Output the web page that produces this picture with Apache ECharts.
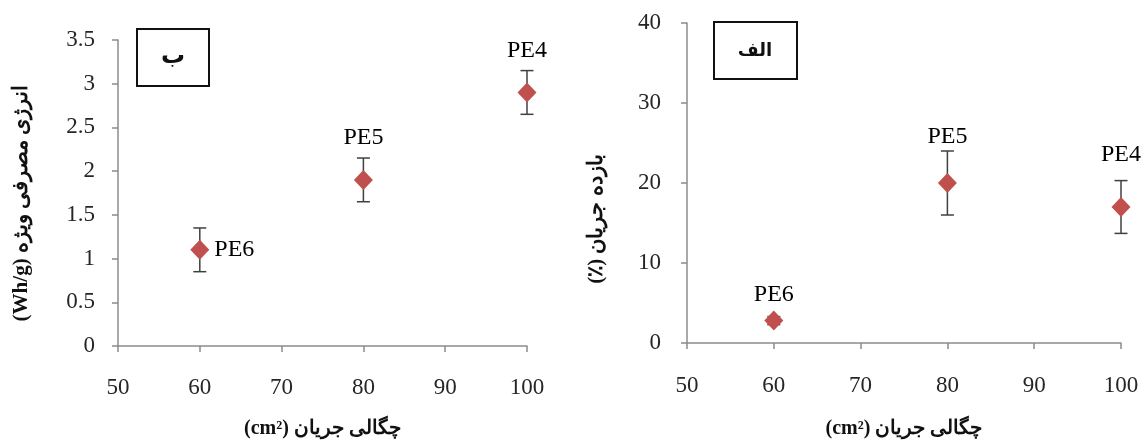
<!DOCTYPE html>
<html><head><meta charset="utf-8">
<script src="https://cdn.jsdelivr.net/npm/echarts@6/dist/echarts.min.js"></script>
<style>html,body{margin:0;padding:0;background:#fff}#c{width:1141px;height:442px}</style>
</head><body><div id="c"></div>
<script>
const currentDensity = [60, 80, 100];
const sampleNames = ['PE6', 'PE5', 'PE4'];
const energyValues = [1.1, 1.9, 2.9];
const energyErrors = [0.25, 0.25, 0.25];
const efficiencyValues = [2.8, 20, 17];
const efficiencyErrors = [0.5, 4, 3.3];
const xTicks = [50, 60, 70, 80, 90, 100];
const energyTicks = [0, 0.5, 1, 1.5, 2, 2.5, 3, 3.5];
const efficiencyTicks = [0, 10, 20, 30, 40];

const RLE = '\u202B', PDF = '\u202C';
const rtl = s => RLE + s + PDF;

const serif = "'Liberation Serif', 'DejaVu Serif', serif";
const red = '#C0504D';
const grayAxis = '#8c8c8c';

function errRender(params, api) {
  const x = api.value(0), lo = api.value(1), hi = api.value(2);
  const pLo = api.coord([x, lo]), pHi = api.coord([x, hi]);
  const w = 6.5;
  const st = { stroke: '#404040', lineWidth: 1.5 };
  return { type: 'group', children: [
    { type: 'line', shape: { x1: pLo[0], y1: pLo[1], x2: pHi[0], y2: pHi[1] }, style: st },
    { type: 'line', shape: { x1: pLo[0]-w, y1: pLo[1], x2: pLo[0]+w, y2: pLo[1] }, style: st },
    { type: 'line', shape: { x1: pHi[0]-w, y1: pHi[1], x2: pHi[0]+w, y2: pHi[1] }, style: st }
  ]};
}

function xAxis(gridIndex, margin, nameGap) {
  return {
    type: 'value', gridIndex, min: 50, max: 100, interval: 10,
    axisLine: { lineStyle: { color: grayAxis, width: 1.5 } },
    axisTick: { show: true, inside: false, length: 6, lineStyle: { color: grayAxis, width: 1.5 } },
    axisLabel: { color: '#262626', fontFamily: serif, fontSize: 23, margin: margin },
    splitLine: { show: false },
    name: rtl('چگالی جریان (cm²)'), nameLocation: 'middle', nameGap,
    nameTextStyle: { color: '#111', fontFamily: serif, fontSize: 20, fontWeight: 'bold' }
  };
}
function yAxis(gridIndex, max, interval, name, nameGap, margin, pad) {
  return {
    type: 'value', gridIndex, min: 0, max, interval,
    axisLine: { show: true, lineStyle: { color: grayAxis, width: 1.5 } },
    axisTick: { show: true, inside: false, length: 6, lineStyle: { color: grayAxis, width: 1.5 } },
    axisLabel: { color: '#262626', fontFamily: serif, fontSize: 23, margin: margin },
    splitLine: { show: false },
    name: rtl(name), nameLocation: 'middle', nameGap, nameRotate: 90,
    nameTextStyle: { color: '#111', fontFamily: serif, fontSize: 21, fontWeight: 'bold', padding: [0, pad, 0, 0] }
  };
}

const energyPoints = currentDensity.map((x, i) => ({
  value: [x, energyValues[i]], name: sampleNames[i],
  label: i === 0 ? { position: 'right', distance: 5 } : { position: 'top', distance: 20 }
}));
const effDist = [4, 24, 30];
const efficiencyPoints = currentDensity.map((x, i) => ({
  value: [x, efficiencyValues[i]], name: sampleNames[i],
  label: { position: 'top', distance: effDist[i] }
}));

const labelStyle = { show: true, formatter: p => p.name, color: '#000', fontFamily: serif, fontSize: 24 };

const chart = echarts.init(document.getElementById('c'), null, { renderer: 'canvas' });
chart.setOption({
  animation: false,
  backgroundColor: '#fff',
  grid: [
    { left: 118, right: 614, top: 40, bottom: 96, outerBoundsMode: 'none', containLabel: false },
    { left: 687, right: 20, top: 23, bottom: 99, outerBoundsMode: 'none', containLabel: false }
  ],
  xAxis: [xAxis(0, 30, 73), xAxis(1, 31, 76)],
  yAxis: [
    yAxis(0, 3.5, 0.5, 'انرژی مصرفی ویژه (Wh/g)', 86, 23, 20),
    yAxis(1, 40, 10, 'بازده جریان (٪)', 80, 26, 72)
  ],
  series: [
    { type: 'custom', xAxisIndex: 0, yAxisIndex: 0, renderItem: errRender, z: 1,
      data: currentDensity.map((x, i) => [x, energyValues[i]-energyErrors[i], energyValues[i]+energyErrors[i]]) },
    { type: 'scatter', xAxisIndex: 0, yAxisIndex: 0, symbol: 'diamond', symbolSize: [19, 20], z: 3,
      itemStyle: { color: red, opacity: 1 }, label: labelStyle, data: energyPoints },
    { type: 'custom', xAxisIndex: 1, yAxisIndex: 1, renderItem: errRender, z: 1,
      data: currentDensity.map((x, i) => [x, efficiencyValues[i]-efficiencyErrors[i], efficiencyValues[i]+efficiencyErrors[i]]) },
    { type: 'scatter', xAxisIndex: 1, yAxisIndex: 1, symbol: 'diamond', symbolSize: [19, 20], z: 3,
      itemStyle: { color: red, opacity: 1 }, label: labelStyle, data: efficiencyPoints }
  ],
  graphic: [
    { type: 'group', left: 136, top: 28, children: [
      { type: 'rect', shape: { x: 0, y: 0, width: 72, height: 57 }, style: { fill: '#fff', stroke: '#111', lineWidth: 2 } },
      { type: 'text', x: 36, y: 28, style: { text: 'ب', fill: '#111', font: "bold 24px 'DejaVu Sans'", align: 'center', verticalAlign: 'middle' } }
    ]},
    { type: 'group', left: 713, top: 21, children: [
      { type: 'rect', shape: { x: 0, y: 0, width: 83, height: 57 }, style: { fill: '#fff', stroke: '#111', lineWidth: 2 } },
      { type: 'text', x: 41, y: 29, style: { text: 'الف', fill: '#111', font: "bold 18px 'DejaVu Sans'", align: 'center', verticalAlign: 'middle' } }
    ]}
  ]
});
</script></body></html>
